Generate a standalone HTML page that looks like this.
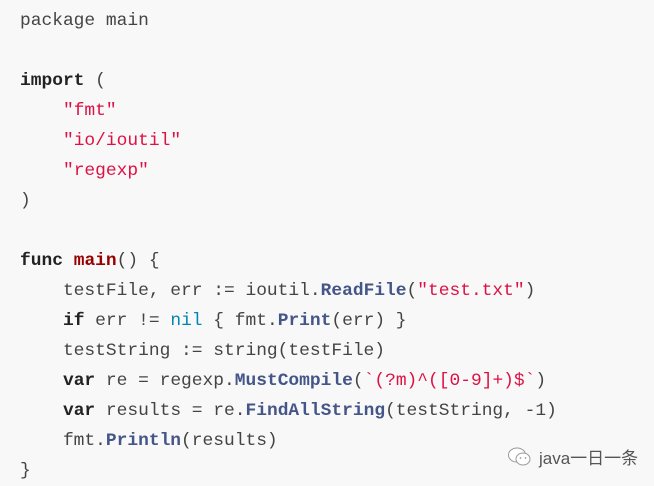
<!DOCTYPE html>
<html><head><meta charset="utf-8"><style>
html,body{margin:0;padding:0;background:#f8f8f8;width:654px;height:486px;overflow:hidden}
pre{margin:0;padding:6px 0 0 20px;font-family:"Liberation Mono","Courier New",monospace;font-size:17.9px;line-height:30px;color:#444}
.k{font-weight:bold;color:#222}
.m{font-weight:bold;color:#990000}
.s{color:#dd1144}
.n{color:#0086b3}
.f{font-weight:bold;color:#445588}
.wm{position:absolute;left:507px;top:444px;font-family:"Liberation Sans","Noto Sans CJK SC",sans-serif;font-size:17px;color:#555;display:flex;align-items:center;gap:6px}
</style></head><body>
<pre>package main

<span class="k">import</span> (
    <span class="s">"fmt"</span>
    <span class="s">"io/ioutil"</span>
    <span class="s">"regexp"</span>
)

<span class="k">func</span> <span class="m">main</span>() {
    testFile, err := ioutil.<span class="f">ReadFile</span>(<span class="s">"test.txt"</span>)
    <span class="k">if</span> err != <span class="n">nil</span> { fmt.<span class="f">Print</span>(err) }
    testString := string(testFile)
    <span class="k">var</span> re = regexp.<span class="f">MustCompile</span>(<span class="s">`(?m)^([0-9]+)$`</span>)
    <span class="k">var</span> results = re.<span class="f">FindAllString</span>(testString, -1)
    fmt.<span class="f">Println</span>(results)
}</pre>
<div class="wm"><svg width="26" height="22" viewBox="0 0 26 22"><ellipse cx="10" cy="9" rx="8.5" ry="7" fill="#fff" stroke="#999" stroke-width="1"/><ellipse cx="16" cy="13" rx="7" ry="6" fill="#fff" stroke="#999" stroke-width="1"/><circle cx="13.5" cy="12" r="0.9" fill="#999"/><circle cx="18.5" cy="12" r="0.9" fill="#999"/></svg><span>java一日一条</span></div>
</body></html>
